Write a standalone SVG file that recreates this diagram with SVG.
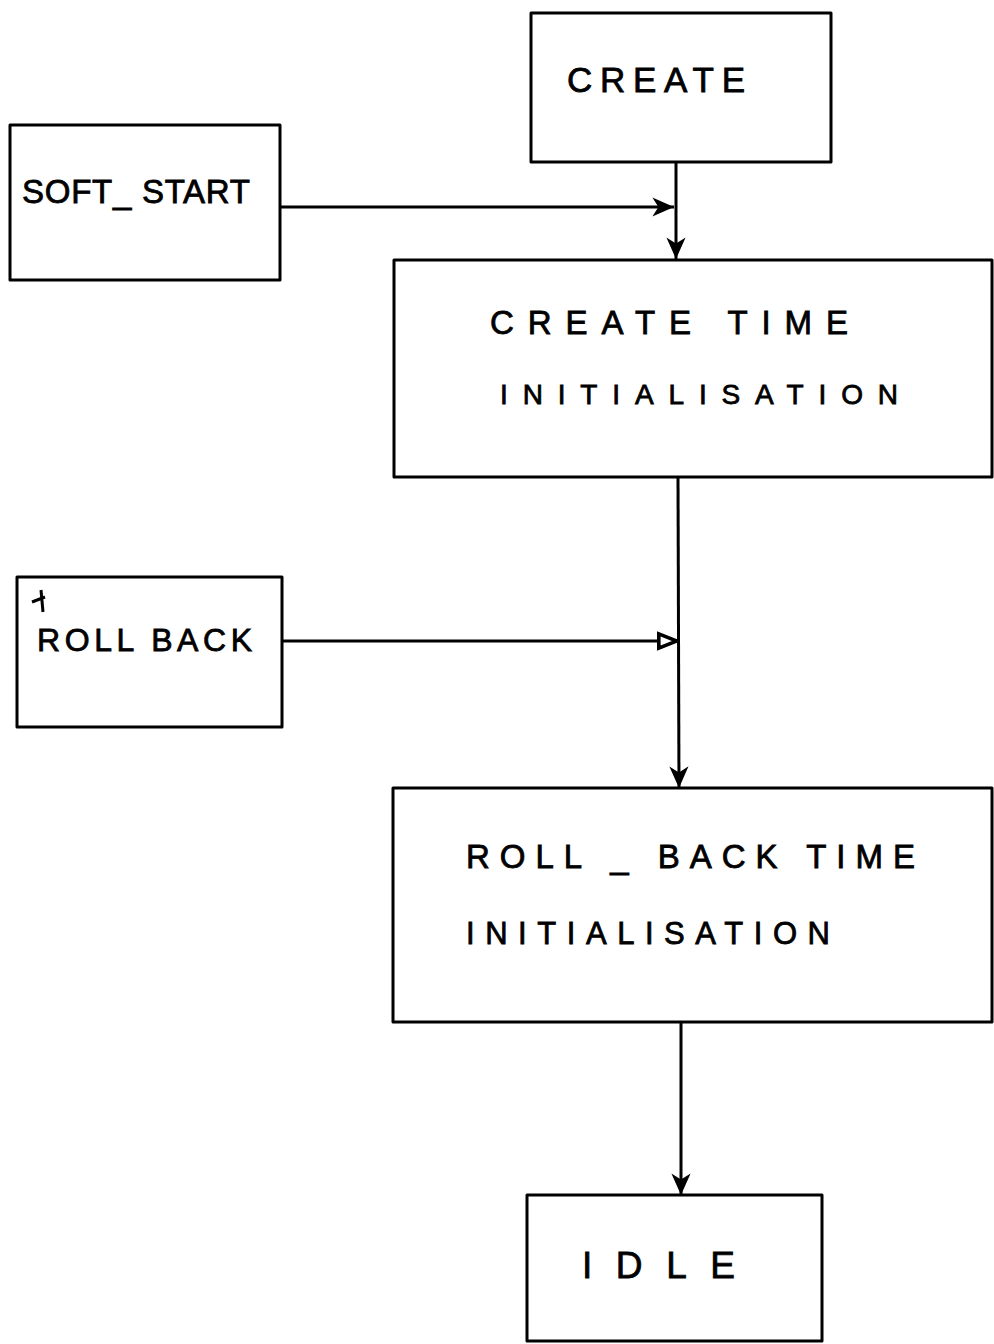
<svg xmlns="http://www.w3.org/2000/svg" width="994" height="1344" viewBox="0 0 994 1344">
<style>
.box{fill:#fff;stroke:#000;stroke-width:3;stroke-linejoin:round}
.ln{fill:none;stroke:#000;stroke-width:3}
.t{font-family:"Liberation Sans","DejaVu Sans",sans-serif;fill:#000;stroke:#000;stroke-width:0.8}
</style>
<defs>
<marker id="af" viewBox="0 0 20 20" refX="19" refY="10" markerWidth="24" markerHeight="24" markerUnits="userSpaceOnUse" orient="auto">
<path d="M1,2 L19,10 L1,18 L6,10 Z" fill="#000"/>
</marker>
<marker id="ao" viewBox="0 0 20 20" refX="19" refY="10" markerWidth="24" markerHeight="24" markerUnits="userSpaceOnUse" orient="auto">
<path d="M3,4 L18,10 L3,16 Z" fill="#fff" stroke="#000" stroke-width="3"/>
</marker>
</defs>
<rect width="994" height="1344" fill="#fff"/>
<g id="connectors">
<line class="ln" x1="280" y1="207" x2="674" y2="207" marker-end="url(#af)"/>
<line class="ln" x1="676" y1="162" x2="676" y2="259" marker-end="url(#af)"/>
<line class="ln" x1="678" y1="477" x2="679" y2="788" marker-end="url(#af)"/>
<line class="ln" x1="282" y1="641" x2="678" y2="641" marker-end="url(#ao)"/>
<line class="ln" x1="681" y1="1022" x2="681" y2="1195" marker-end="url(#af)"/>
</g>
<g id="create">
<rect class="box" x="531" y="13" width="300" height="149"/>
<text class="t" x="567" y="92" font-size="35" textLength="178" lengthAdjust="spacing">CREATE</text>
</g>
<g id="soft_start">
<rect class="box" x="10" y="125" width="270" height="155"/>
<text class="t" x="22" y="203" font-size="33" textLength="228" lengthAdjust="spacing">SOFT_ START</text>
</g>
<g id="create_time_init">
<rect class="box" x="394" y="260" width="598" height="217"/>
<text class="t" x="490" y="334" font-size="33" textLength="358" lengthAdjust="spacing">CREATE   TIME</text>
<text class="t" x="500" y="404" font-size="28" textLength="398" lengthAdjust="spacing">INITIALISATION</text>
</g>
<g id="roll_back">
<rect class="box" x="17" y="577" width="265" height="150"/>
<text class="t" x="37" y="651" font-size="32" textLength="215" lengthAdjust="spacing">ROLL BACK</text>
<path class="ln" stroke-width="2" d="M32,602 L45,597 M41,590 L43,612"/>
</g>
<g id="roll_back_time_init">
<rect class="box" x="393" y="788" width="599" height="234"/>
<text class="t" x="466" y="868" font-size="33" textLength="449" lengthAdjust="spacing">ROLL _ BACK  TIME</text>
<text class="t" x="466" y="944" font-size="31" textLength="364" lengthAdjust="spacing">INITIALISATION</text>
</g>
<g id="idle">
<rect class="box" x="527" y="1195" width="295" height="146"/>
<text class="t" x="582" y="1278" font-size="37" textLength="153" lengthAdjust="spacing">IDLE</text>
</g>
</svg>
